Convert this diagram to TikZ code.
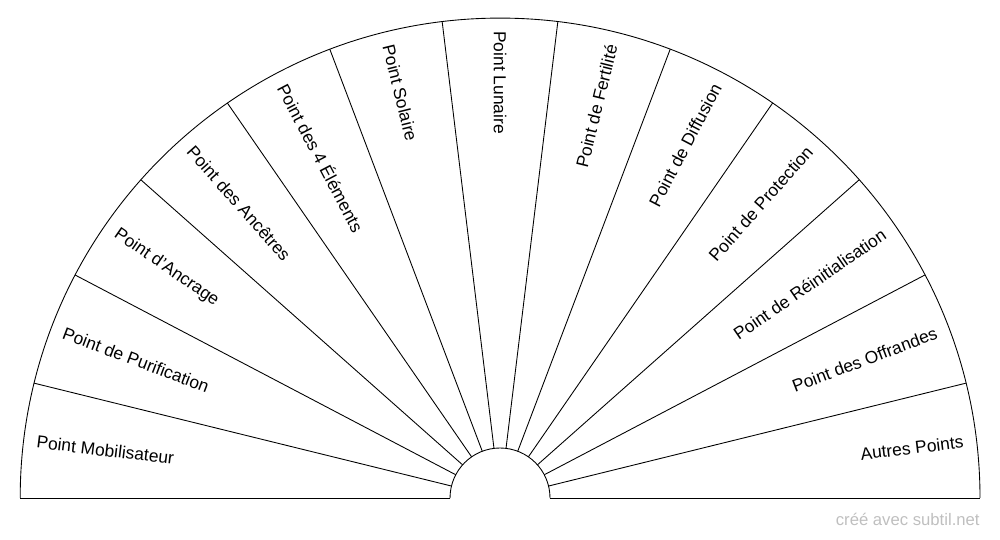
\documentclass[tikz,border=0pt]{standalone}
\usepackage{fontspec}
\setmainfont{Liberation Sans}
\usepackage{tikz}

\tikzset{
	rayline/.style={draw=black, line width=0.5pt},
	lbl/.style={font=\fontsize{9.9}{11}\selectfont, inner sep=0pt}
}

\begin{document}
\begin{tikzpicture}[x=0.02cm, y=0.02cm]
	\useasboundingbox (0,0) rectangle (1000,540);
	\coordinate (c) at (500,42);
	% radial lines
	\foreach \i in {0,...,13} {
		\path (c) ++(\i*180/13:50) coordinate (i\i) ++(\i*180/13:430) coordinate (o\i);
		\draw[rayline] (i\i) -- (o\i);
	}
	\draw[rayline] (o0) arc[start angle=0, end angle=180, radius=9.6cm];
	\draw[rayline] (i0) arc[start angle=0, end angle=180, radius=1cm];

	% labels
	\foreach \t [count=\k from 0] in {Point Mobilisateur, Point de Purification, Point d'Ancrage, Point des Ancêtres, Point des 4 Éléments, Point Solaire, Point Lunaire, Point de Fertilité, Point de Diffusion, Point de Protection, Point de Réinitialisation, Point des Offrandes, Autres Points} {
		\pgfmathsetmacro{\a}{180-(\k+0.5)*180/13}
		\ifnum\k<7
			\path (c) ++(\a:467) node[lbl, anchor=west, rotate=\a-180] (l\k) {\t};
		\else
			\path (c) ++(\a:467) node[lbl, anchor=east, rotate=\a] (l\k) {\t};
		\fi
	}

	\node[font=\fontsize{9.5}{10}\selectfont, text=black!25, anchor=east, inner sep=0pt] (credit) at (980,21) {créé avec subtil.net};
\end{tikzpicture}
\end{document}
